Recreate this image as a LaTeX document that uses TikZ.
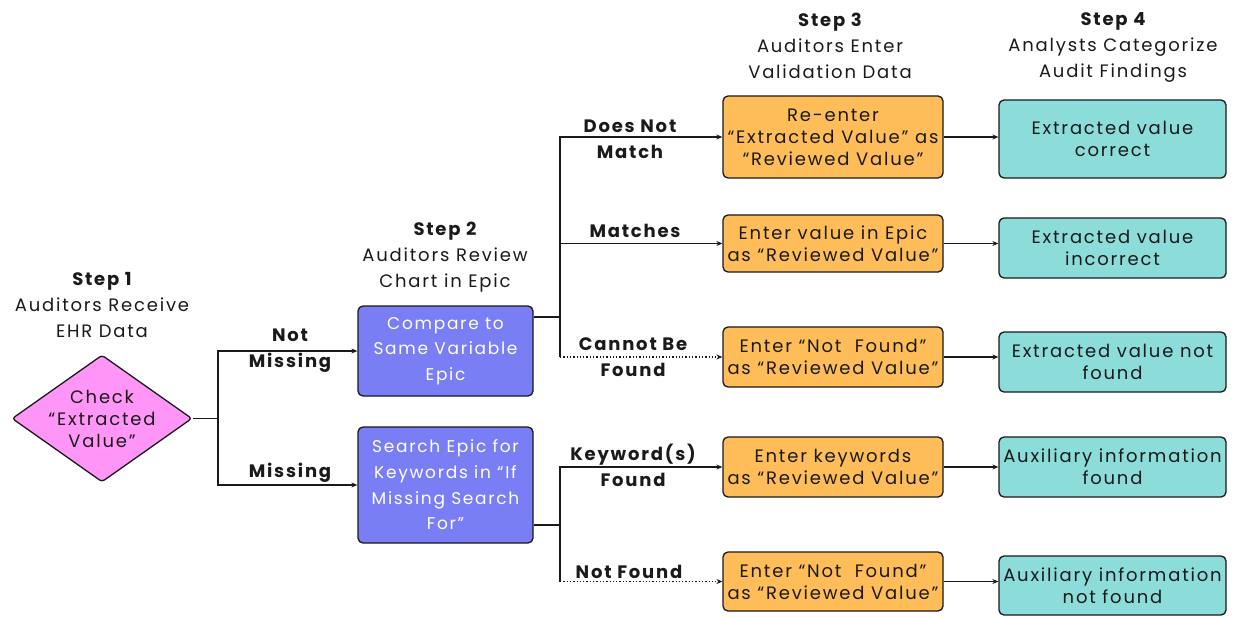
\documentclass[tikz,border=0pt]{standalone}
\usepackage{fontspec}
\setmainfont{Poppins}[LetterSpace=10]
\usetikzlibrary{shapes.geometric,arrows.meta}
\definecolor{ink}{HTML}{1A1A1A}
\definecolor{pinkf}{HTML}{FF96F7}
\definecolor{bluef}{HTML}{7A7EF4}
\definecolor{orangef}{HTML}{FFBD59}
\definecolor{tealf}{HTML}{8CDCDA}
\tikzset{
  txt/.style={font=\fontsize{18}{22}\selectfont, text=ink, align=center, inner sep=0pt},
  title/.style={font=\fontsize{18}{26}\selectfont, text=ink, align=center, inner sep=0pt, anchor=north},
  lbl/.style={font=\fontsize{18}{26}\selectfont\bfseries, text=ink, align=center, inner sep=0pt},
  box/.style={draw=ink, line width=1.3pt, rounded corners=5pt, align=center, inner sep=0pt,
    font=\fontsize{18}{22}\selectfont},
  bluebox/.style={box, fill=bluef, text=white, minimum width=175pt, font=\fontsize{17}{25.7}\selectfont},
  orangebox/.style={box, fill=orangef, text=ink, minimum width=220pt},
  tealbox/.style={box, fill=tealf, text=ink, minimum width=227pt},
  conn/.style={draw=ink, line width=1.3pt},
  arr/.style={conn, -{Stealth[length=6pt,width=5pt]}},
  dot/.style={arr, dotted},
}
\begin{document}
\begin{tikzpicture}[x=1pt,y=-1pt]
\useasboundingbox[fill=white] (0,0) rectangle (1233,616);

% titles
\node[title] (t1) at (102,272.5) {{\bfseries Step 1}\\Auditors Receive\\EHR Data};
\node[title] (t2) at (445,221.5) {{\bfseries Step 2}\\Auditors Review\\Chart in Epic};
\node[title] (t3) at (830,12.5) {{\bfseries Step 3}\\Auditors Enter\\Validation Data};
\node[title] (t4) at (1113,12.5) {{\bfseries Step 4}\\Analysts Categorize\\Audit Findings};

% diamond
\node[diamond, draw=ink, line width=1.3pt, fill=pinkf, minimum width=180pt, minimum height=127pt,
  inner sep=0pt, rounded corners=3pt,
  label={[txt]center:Check\\“Extracted\\Value”}] (d) at (102,418.5) {};

% step 2 boxes
\node[bluebox, minimum height=90pt] (b1) at (445.5,351) {Compare to\\Same Variable\\Epic};
\node[bluebox, minimum height=116pt] (b2) at (445.5,485) {Search Epic for\\Keywords in “If\\Missing Search\\For”};

% step 3 boxes
\node[orangebox, minimum height=82pt] (o1) at (833,137) {Re-enter\\“Extracted Value” as\\“Reviewed Value”};
\node[orangebox, minimum height=57pt] (o2) at (833,243.5) {Enter value in Epic\\as “Reviewed Value”};
\node[orangebox, minimum height=60pt] (o3) at (833,357) {Enter “Not\ \ Found”\\as “Reviewed Value”};
\node[orangebox, minimum height=60pt] (o4) at (833,467) {Enter keywords\\as “Reviewed Value”};
\node[orangebox, minimum height=59pt] (o5) at (833,581.5) {Enter “Not\ \ Found”\\as “Reviewed Value”};

% step 4 boxes
\node[tealbox, minimum height=78pt] (c1) at (1112.5,139) {Extracted value\\correct};
\node[tealbox, minimum height=60pt] (c2) at (1112.5,248) {Extracted value\\incorrect};
\node[tealbox, minimum height=60pt] (c3) at (1112.5,362) {Extracted value not\\found};
\node[tealbox, minimum height=60pt] (c4) at (1112.5,467) {Auxiliary information\\found};
\node[tealbox, minimum height=59pt] (c5) at (1112.5,585.5) {Auxiliary information\\not found};

% junctions
\coordinate (j0) at (218,418.5);
\coordinate (j1) at (560,317);
\coordinate (j2) at (560,525);

% step1 -> step2
\draw[conn] (d.east) -- (j0);
\draw[arr] (j0) |- (b1.west);
\draw[arr] (j0) |- (b2.west);
\node[lbl] (l1) at (290,351) {Not\\Missing};
\node[lbl] (l2) at (290,473) {Missing};

% step2 -> step3
\draw[conn] (b1.east |- j1) -- (j1);
\draw[arr] (j1) |- (o1.west);
\draw[arr] (j1) |- (o2.west);
\draw[conn] (j1) -- (j1 |- o3.west);
\draw[dot] (j1 |- o3.west) -- (o3.west);
\node[lbl] (l3) at (630,139) {Does Not\\Match};
\node[lbl] (l4) at (635,231) {Matches};
\node[lbl] (l5) at (633,357) {Cannot Be\\Found};

\draw[conn] (b2.east |- j2) -- (j2);
\draw[arr] (j2) |- (o4.west);
\draw[conn] (j2) -- (j2 |- o5.west);
\draw[dot] (j2 |- o5.west) -- (o5.west);
\node[lbl] (l6) at (633,465) {Keyword(s)\\Found};
\node[lbl] (l7) at (629,572) {Not Found};

% step3 -> step4
\draw[arr] (o1.east) -- (o1.east -| c1.west);
\draw[arr] (o2.east) -- (o2.east -| c2.west);
\draw[arr] (o3.east) -- (o3.east -| c3.west);
\draw[arr] (o4.east) -- (o4.east -| c4.west);
\draw[arr] (o5.east) -- (o5.east -| c5.west);
\end{tikzpicture}
\end{document}
